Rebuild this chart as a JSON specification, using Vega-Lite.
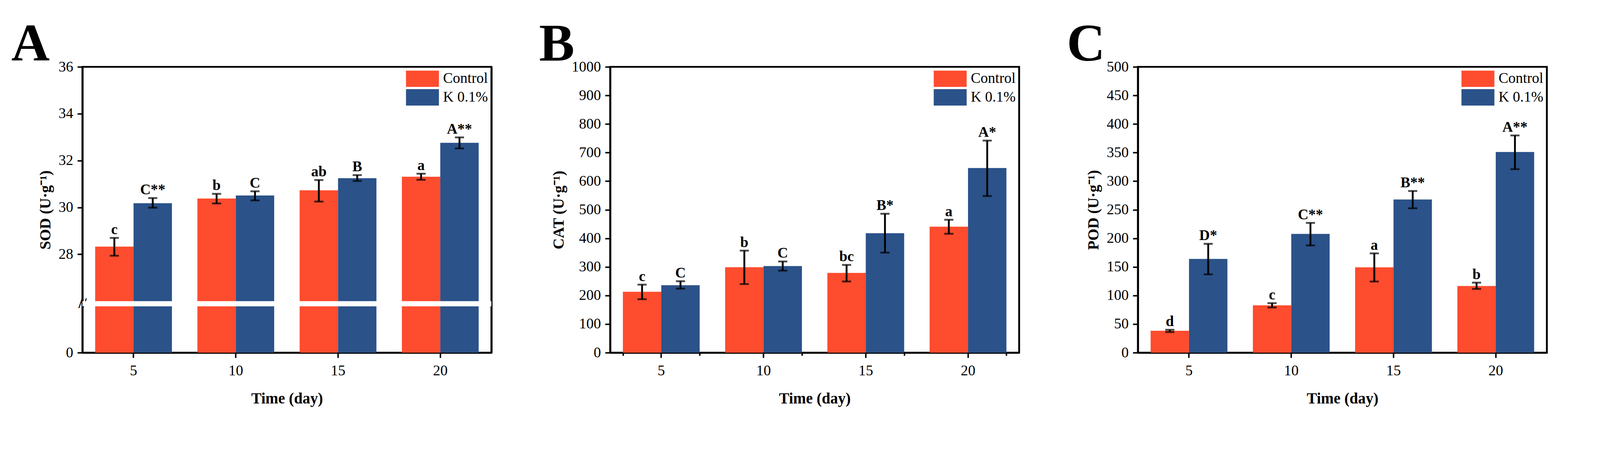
{
  "$schema": "https://vega.github.io/schema/vega-lite/v6.json",
  "autosize": {"type": "pad"},
  "padding": {"left": 26, "top": 43, "right": 20, "bottom": 0},
  "background": "white",
  "bounds": "flush",
  "spacing": 304,
  "datasets": {
    "sod": [
      {"day": 5, "group": "Control", "mean": 28.33, "lo": 27.94, "hi": 28.70, "label": "c"},
      {"day": 5, "group": "K 0.1%", "mean": 30.18, "lo": 29.99, "hi": 30.40, "label": "C**"},
      {"day": 10, "group": "Control", "mean": 30.38, "lo": 30.17, "hi": 30.58, "label": "b"},
      {"day": 10, "group": "K 0.1%", "mean": 30.51, "lo": 30.30, "hi": 30.69, "label": "C"},
      {"day": 15, "group": "Control", "mean": 30.73, "lo": 30.25, "hi": 31.17, "label": "ab"},
      {"day": 15, "group": "K 0.1%", "mean": 31.25, "lo": 31.13, "hi": 31.38, "label": "B"},
      {"day": 20, "group": "Control", "mean": 31.31, "lo": 31.18, "hi": 31.44, "label": "a"},
      {"day": 20, "group": "K 0.1%", "mean": 32.76, "lo": 32.52, "hi": 32.99, "label": "A**"}
    ],
    "cat": [
      {"day": 5, "group": "Control", "mean": 213, "lo": 187, "hi": 238, "label": "c"},
      {"day": 5, "group": "K 0.1%", "mean": 236, "lo": 224, "hi": 250, "label": "C"},
      {"day": 10, "group": "Control", "mean": 299, "lo": 240, "hi": 357, "label": "b"},
      {"day": 10, "group": "K 0.1%", "mean": 303, "lo": 287, "hi": 319, "label": "C"},
      {"day": 15, "group": "Control", "mean": 279, "lo": 249, "hi": 307, "label": "bc"},
      {"day": 15, "group": "K 0.1%", "mean": 418, "lo": 350, "hi": 486, "label": "B*"},
      {"day": 20, "group": "Control", "mean": 441, "lo": 416, "hi": 465, "label": "a"},
      {"day": 20, "group": "K 0.1%", "mean": 646, "lo": 548, "hi": 742, "label": "A*"}
    ],
    "pod": [
      {"day": 5, "group": "Control", "mean": 38.3, "lo": 36, "hi": 40, "label": "d"},
      {"day": 5, "group": "K 0.1%", "mean": 164, "lo": 137, "hi": 190.4, "label": "D*"},
      {"day": 10, "group": "Control", "mean": 82.8, "lo": 79, "hi": 86.6, "label": "c"},
      {"day": 10, "group": "K 0.1%", "mean": 207.7, "lo": 187.6, "hi": 227, "label": "C**"},
      {"day": 15, "group": "Control", "mean": 149.3, "lo": 124.4, "hi": 173.7, "label": "a"},
      {"day": 15, "group": "K 0.1%", "mean": 268, "lo": 252.6, "hi": 282.8, "label": "B**"},
      {"day": 20, "group": "Control", "mean": 116.7, "lo": 111.5, "hi": 122.5, "label": "b"},
      {"day": 20, "group": "K 0.1%", "mean": 351, "lo": 321, "hi": 380, "label": "A**"}
    ]
  },
  "hconcat": [
    {
      "width": 1047, "height": 731,
      "title": {"text": "A"},
      "data": {"name": "sod"},
      "resolve": {"axis": {"y": "independent"}},
      "layer": [
        {
          "mark": {"type": "bar"},
          "encoding": {
            "x": {"field": "day", "type": "ordinal", "scale": {"paddingInner": 0.249, "paddingOuter": 0.1245}, "axis": {"title": "Time (day)", "labelAngle": 0}},
            "xOffset": {"field": "group", "type": "nominal", "scale": {"domain": ["Control", "K 0.1%"]}},
            "y": {"field": "mean", "type": "quantitative", "title": "SOD (U·g⁻¹)",
              "scale": {"domain": [0, 26, 36], "range": [731, 599.3, 0], "nice": false, "zero": false},
              "axis": {
                "values": [0, 24.7, 28, 30, 32, 34, 36],
                "labelExpr": "datum.value == 24.7 ? '//' : datum.label",
                "labelAlign": {"condition": {"test": "datum.value == 24.7", "value": "center"}, "value": "right"},
                "labelPadding": {"condition": {"test": "datum.value == 24.7", "value": -13}, "value": 11},
                "labelFontWeight": {"condition": {"test": "datum.value == 24.7", "value": "bold"}, "value": "normal"},
                "tickOpacity": {"condition": {"test": "datum.value == 24.7", "value": 0}, "value": 1}
              }},
            "color": {"field": "group", "type": "nominal", "scale": {"domain": ["Control", "K 0.1%"], "range": ["#FE4C2E", "#2B5289"]}, "legend": {"title": null}}
          }
        },
        {
          "data": {"values": [{}]},
          "mark": {"type": "rect", "color": "white"},
          "encoding": {
            "y": {"datum": 23.4, "type": "quantitative", "axis": {"orient": "right", "labels": false, "ticks": false, "title": null, "domainWidth": 4.7}},
            "y2": {"datum": 26.0}
          }
        },
        {
          "mark": {"type": "rule", "color": "black", "strokeWidth": 4.7},
          "encoding": {
            "x": {"field": "day", "type": "ordinal"},
            "xOffset": {"field": "group", "type": "nominal"},
            "y": {"field": "lo", "type": "quantitative", "axis": null},
            "y2": {"field": "hi"}
          }
        },
        {
          "mark": {"type": "tick", "color": "black", "thickness": 4.7, "size": 23.4, "orient": "horizontal"},
          "encoding": {
            "x": {"field": "day", "type": "ordinal"},
            "xOffset": {"field": "group", "type": "nominal"},
            "y": {"field": "lo", "type": "quantitative", "axis": null}
          }
        },
        {
          "mark": {"type": "tick", "color": "black", "thickness": 4.7, "size": 23.4, "orient": "horizontal"},
          "encoding": {
            "x": {"field": "day", "type": "ordinal"},
            "xOffset": {"field": "group", "type": "nominal"},
            "y": {"field": "hi", "type": "quantitative", "axis": null}
          }
        },
        {
          "mark": {"type": "text", "fontSize": 37.5, "fontWeight": "bold", "font": "Liberation Serif", "baseline": "alphabetic", "dy": -9.4, "color": "black"},
          "encoding": {
            "x": {"field": "day", "type": "ordinal"},
            "xOffset": {"field": "group", "type": "nominal"},
            "y": {"field": "hi", "type": "quantitative", "axis": null},
            "text": {"field": "label"}
          }
        }
      ]
    },
    {
      "width": 1047, "height": 731,
      "title": {"text": "B"},
      "data": {"name": "cat"},
      "resolve": {"axis": {"x": "independent"}},
      "layer": [
        {
          "mark": {"type": "bar"},
          "encoding": {
            "x": {"field": "day", "type": "ordinal", "scale": {"paddingInner": 0.249, "paddingOuter": 0.1245}, "axis": {"title": "Time (day)", "labelAngle": 0}},
            "xOffset": {"field": "group", "type": "nominal", "scale": {"domain": ["Control", "K 0.1%"]}},
            "y": {"field": "mean", "type": "quantitative", "title": "CAT (U·g⁻¹)",
              "scale": {"domain": [0, 1000], "nice": false},
              "axis": {
                "values": [0, 50, 100, 150, 200, 250, 300, 350, 400, 450, 500, 550, 600, 650, 700, 750, 800, 850, 900, 950, 1000],
                "labelExpr": "datum.value % 100 == 0 ? format(datum.value, 'd') : ''",
                "tickSize": {"condition": {"test": "datum.value % 100 != 0", "value": 7.5}, "value": 13}
              }},
            "color": {"field": "group", "type": "nominal", "scale": {"domain": ["Control", "K 0.1%"], "range": ["#FE4C2E", "#2B5289"]}, "legend": {"title": null}}
          }
        },
        {
          "mark": {"type": "rule", "color": "black", "strokeWidth": 4.7},
          "encoding": {
            "x": {"field": "day", "type": "ordinal", "axis": {"tickBand": "extent", "labels": false, "domain": false, "title": null, "tickSize": 7.5, "orient": "bottom"}},
            "xOffset": {"field": "group", "type": "nominal"},
            "y": {"field": "lo", "type": "quantitative", "title": "CAT (U·g⁻¹)"},
            "y2": {"field": "hi"}
          }
        },
        {
          "mark": {"type": "tick", "color": "black", "thickness": 4.7, "size": 23.4, "orient": "horizontal"},
          "encoding": {
            "x": {"field": "day", "type": "ordinal", "axis": null},
            "xOffset": {"field": "group", "type": "nominal"},
            "y": {"field": "lo", "type": "quantitative", "title": "CAT (U·g⁻¹)"}
          }
        },
        {
          "mark": {"type": "tick", "color": "black", "thickness": 4.7, "size": 23.4, "orient": "horizontal"},
          "encoding": {
            "x": {"field": "day", "type": "ordinal", "axis": null},
            "xOffset": {"field": "group", "type": "nominal"},
            "y": {"field": "hi", "type": "quantitative", "title": "CAT (U·g⁻¹)"}
          }
        },
        {
          "mark": {"type": "text", "fontSize": 37.5, "fontWeight": "bold", "font": "Liberation Serif", "baseline": "alphabetic", "dy": -9.4, "color": "black"},
          "encoding": {
            "x": {"field": "day", "type": "ordinal", "axis": null},
            "xOffset": {"field": "group", "type": "nominal"},
            "y": {"field": "hi", "type": "quantitative", "title": "CAT (U·g⁻¹)"},
            "text": {"field": "label"}
          }
        }
      ]
    },
    {
      "width": 1047, "height": 731,
      "title": {"text": "C"},
      "data": {"name": "pod"},
      "layer": [
        {
          "mark": {"type": "bar"},
          "encoding": {
            "x": {"field": "day", "type": "ordinal", "scale": {"paddingInner": 0.249, "paddingOuter": 0.1245}, "axis": {"title": "Time (day)", "labelAngle": 0}},
            "xOffset": {"field": "group", "type": "nominal", "scale": {"domain": ["Control", "K 0.1%"]}},
            "y": {"field": "mean", "type": "quantitative", "title": "POD (U·g⁻¹)",
              "scale": {"domain": [0, 500], "nice": false},
              "axis": {"values": [0, 50, 100, 150, 200, 250, 300, 350, 400, 450, 500]}},
            "color": {"field": "group", "type": "nominal", "scale": {"domain": ["Control", "K 0.1%"], "range": ["#FE4C2E", "#2B5289"]}, "legend": {"title": null}}
          }
        },
        {
          "mark": {"type": "rule", "color": "black", "strokeWidth": 4.7},
          "encoding": {
            "x": {"field": "day", "type": "ordinal"},
            "xOffset": {"field": "group", "type": "nominal"},
            "y": {"field": "lo", "type": "quantitative", "title": "POD (U·g⁻¹)"},
            "y2": {"field": "hi"}
          }
        },
        {
          "mark": {"type": "tick", "color": "black", "thickness": 4.7, "size": 23.4, "orient": "horizontal"},
          "encoding": {
            "x": {"field": "day", "type": "ordinal"},
            "xOffset": {"field": "group", "type": "nominal"},
            "y": {"field": "lo", "type": "quantitative", "title": "POD (U·g⁻¹)"}
          }
        },
        {
          "mark": {"type": "tick", "color": "black", "thickness": 4.7, "size": 23.4, "orient": "horizontal"},
          "encoding": {
            "x": {"field": "day", "type": "ordinal"},
            "xOffset": {"field": "group", "type": "nominal"},
            "y": {"field": "hi", "type": "quantitative", "title": "POD (U·g⁻¹)"}
          }
        },
        {
          "mark": {"type": "text", "fontSize": 37.5, "fontWeight": "bold", "font": "Liberation Serif", "baseline": "alphabetic", "dy": -9.4, "color": "black"},
          "encoding": {
            "x": {"field": "day", "type": "ordinal"},
            "xOffset": {"field": "group", "type": "nominal"},
            "y": {"field": "hi", "type": "quantitative", "title": "POD (U·g⁻¹)"},
            "text": {"field": "label"}
          }
        }
      ]
    }
  ],
  "resolve": {"legend": {"color": "independent"}, "scale": {"y": "independent", "x": "independent"}},
  "config": {
    "font": "Liberation Serif",
    "view": {"stroke": "black", "strokeWidth": 4.7},
    "title": {"anchor": "start", "frame": "group", "fontSize": 136, "fontWeight": "bold", "font": "Liberation Serif", "color": "black", "dx": -182, "offset": -32},
    "axis": {
      "labelFont": "Liberation Serif", "labelFontSize": 37.5, "labelColor": "black",
      "titleFont": "Liberation Serif", "titleFontSize": 39.3, "titleFontWeight": "bold", "titleColor": "black",
      "domainColor": "black", "domainWidth": 4.7, "tickColor": "black", "tickWidth": 3.75, "tickSize": 13,
      "grid": false, "zindex": 1
    },
    "axisX": {"labelPadding": 14, "titlePadding": 33.7},
    "axisY": {"labelPadding": 11, "titlePadding": 13},
    "legend": {
      "orient": "none", "legendX": 828, "legendY": 9.4, "padding": 0, "title": null,
      "symbolType": "M-1,-0.5H1V0.5H-1Z", "symbolSize": 7107, "symbolStrokeWidth": 0, "symbolOpacity": 1,
      "clipHeight": 42, "rowPadding": 5.6,
      "labelFont": "Liberation Serif", "labelFontSize": 37.5, "labelColor": "black", "labelOffset": 10.3, "labelLimit": 400
    }
  }
}
